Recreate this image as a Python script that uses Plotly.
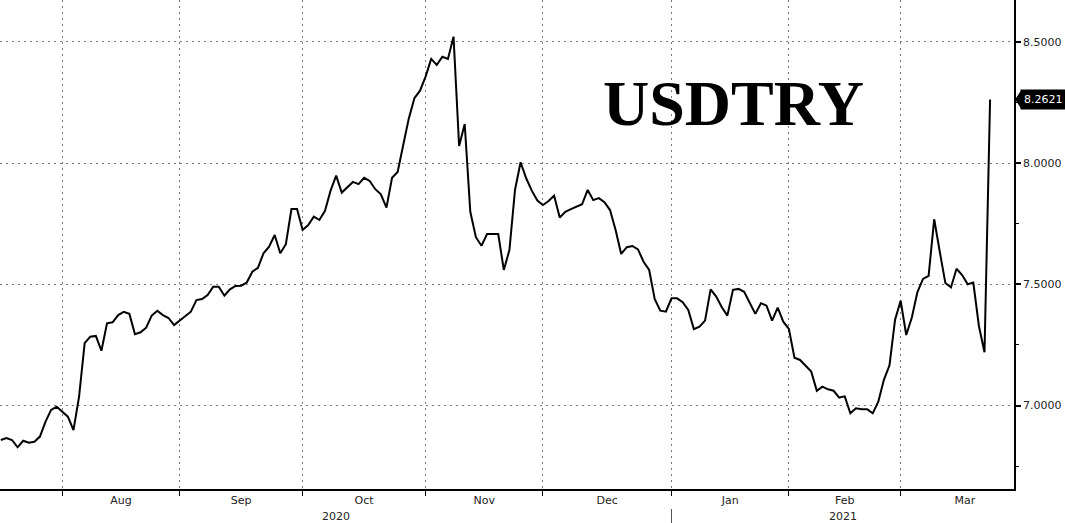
import pandas as pd
import plotly.graph_objects as go

# ---------------- data ----------------
dates = pd.bdate_range("2020-07-16", "2021-03-22")  # weekday series (Bloomberg style)

usdtry = [
    # Jul 16 - Jul 31 2020
    6.858, 6.866, 6.858, 6.828, 6.855, 6.847, 6.851, 6.872, 6.934, 6.982, 6.995, 6.975,
    # Aug
    6.954, 6.899, 7.037, 7.257, 7.284, 7.287, 7.226, 7.339, 7.343, 7.373, 7.386, 7.378,
    7.294, 7.302, 7.321, 7.371, 7.391, 7.373, 7.361, 7.332, 7.350,
    # Sep
    7.366, 7.387, 7.435, 7.439, 7.456, 7.490, 7.490, 7.453, 7.479, 7.493, 7.494, 7.507,
    7.552, 7.568, 7.628, 7.655, 7.703, 7.628, 7.665, 7.810, 7.810, 7.724,
    # Oct
    7.744, 7.779, 7.765, 7.803, 7.886, 7.948, 7.878, 7.898, 7.922, 7.913, 7.939, 7.926,
    7.892, 7.871, 7.816, 7.939, 7.963, 8.074, 8.184, 8.267, 8.298, 8.356,
    # Nov
    8.429, 8.404, 8.438, 8.429, 8.521, 8.070, 8.161, 7.799, 7.694, 7.659, 7.707, 7.707,
    7.707, 7.559, 7.641, 7.889, 8.003, 7.937, 7.886, 7.845, 7.827,
    # Dec
    7.843, 7.865, 7.775, 7.799, 7.810, 7.820, 7.830, 7.889, 7.847, 7.855, 7.838, 7.806,
    7.724, 7.625, 7.653, 7.658, 7.644, 7.593, 7.559, 7.439, 7.391, 7.387, 7.442,
    # Jan 2021
    7.442, 7.426, 7.394, 7.315, 7.325, 7.350, 7.479, 7.449, 7.405, 7.371, 7.477, 7.481,
    7.469, 7.426, 7.378, 7.422, 7.412, 7.350, 7.404, 7.346, 7.316,
    # Feb
    7.197, 7.188, 7.164, 7.140, 7.061, 7.078, 7.067, 7.061, 7.033, 7.038, 6.968, 6.989,
    6.985, 6.985, 6.968, 7.016, 7.106, 7.166, 7.354, 7.432,
    # Mar 1 - Mar 22
    7.291, 7.363, 7.468, 7.522, 7.535, 7.768, 7.634, 7.505, 7.487, 7.564, 7.538, 7.500,
    7.507, 7.328, 7.220, 8.2621,
]

last_label = "8.2621"
title_text = "USDTRY"
month_labels = ["Aug", "Sep", "Oct", "Nov", "Dec", "Jan", "Feb", "Mar"]
year_labels = ["2020", "2021"]
y_major = [7.0, 7.5, 8.0, 8.5]
y_minor = [6.75, 7.25, 7.75, 8.25]

# ---------------- axis helpers ----------------
idx = list(range(len(dates)))
# month boundaries sit on the last weekday of the previous month
boundaries = [i - 1 for i in range(1, len(dates)) if dates[i].month != dates[i - 1].month]
centers = []
for b in boundaries:
    start = dates[b + 1]
    n = len(pd.bdate_range(start, start + pd.offsets.MonthEnd(0)))
    centers.append(b + n / 2)
year_break = [b for b in boundaries if dates[b + 1].month == 1][0]

x_range = [-0.147, 181.28]
y_range = [6.656, 8.672]

font_name = "DejaVu Sans"

fig = go.Figure()
fig.add_trace(go.Scatter(
    x=idx, y=usdtry, mode="lines",
    line=dict(color="black", width=2),
    hoverinfo="skip",
))

fig.update_layout(
    width=1065, height=523,
    margin=dict(l=0, r=51, t=0, b=34),
    paper_bgcolor="white", plot_bgcolor="white",
    showlegend=False,
    font=dict(family=font_name, size=11, color="#222222"),
    xaxis=dict(
        range=x_range,
        tickmode="array", tickvals=centers, ticktext=month_labels,
        ticks="", showgrid=False, zeroline=False,
        showline=True, linecolor="black", linewidth=1.5,
        tickfont=dict(family=font_name, size=11, color="#222222"),
        minor=dict(
            tickmode="array", tickvals=boundaries,
            ticks="outside", ticklen=5, tickwidth=1, tickcolor="black",
            showgrid=True, gridcolor="#7a7a7a", gridwidth=1, griddash="2px,4px",
        ),
        fixedrange=True,
    ),
    yaxis=dict(
        range=y_range, side="right",
        tickmode="array", tickvals=y_major, tickformat=".4f",
        ticks="outside", ticklen=5, tickwidth=2, tickcolor="black",
        showgrid=True, gridcolor="#7a7a7a", gridwidth=1, griddash="2px,4px",
        zeroline=False,
        showline=True, linecolor="black", linewidth=1.5,
        tickfont=dict(family=font_name, size=11, color="#222222"),
        minor=dict(tickmode="array", tickvals=y_minor, ticks="outside",
                   ticklen=3, tickwidth=1, tickcolor="black", showgrid=False),
        fixedrange=True,
    ),
)

# year labels, centred in the visible part of each year
year_pos = [(x_range[0] + year_break) / 2, (year_break + x_range[1]) / 2]
for xp, lab in zip(year_pos, year_labels):
    fig.add_annotation(x=xp, xref="x", y=0, yref="paper", yshift=-27,
                       text=lab, showarrow=False, yanchor="middle",
                       font=dict(family=font_name, size=11, color="#222222"))

# year separator below the axis
fig.add_shape(type="line", xref="x", yref="paper",
              x0=year_break, x1=year_break, y0=-0.041, y1=-0.07,
              line=dict(color="#555555", width=1))

# last price tag
fig.add_annotation(x=1, xref="paper", y=usdtry[-1], yref="y", xshift=6,
                   xanchor="left", yanchor="middle", text=last_label,
                   showarrow=False, bgcolor="black", borderpad=3,
                   font=dict(family=font_name, size=11, color="white"))
fig.add_shape(type="path", xref="paper", yref="y",
              path=f"M 1.001 {usdtry[-1]} L 1.0075 {usdtry[-1] + 0.04} L 1.0075 {usdtry[-1] - 0.04} Z",
              fillcolor="black", line=dict(width=0))

# big title
fig.add_annotation(x=0.723, xref="paper", y=0.788, yref="paper",
                   text=f"<b>{title_text}</b>", showarrow=False,
                   xanchor="center", yanchor="middle",
                   font=dict(family="Liberation Serif", size=64, color="black"))

fig.write_html("out.html",
               config={"displayModeBar": False},
               post_script="document.body.style.margin='0px';document.body.style.overflow='hidden';")
